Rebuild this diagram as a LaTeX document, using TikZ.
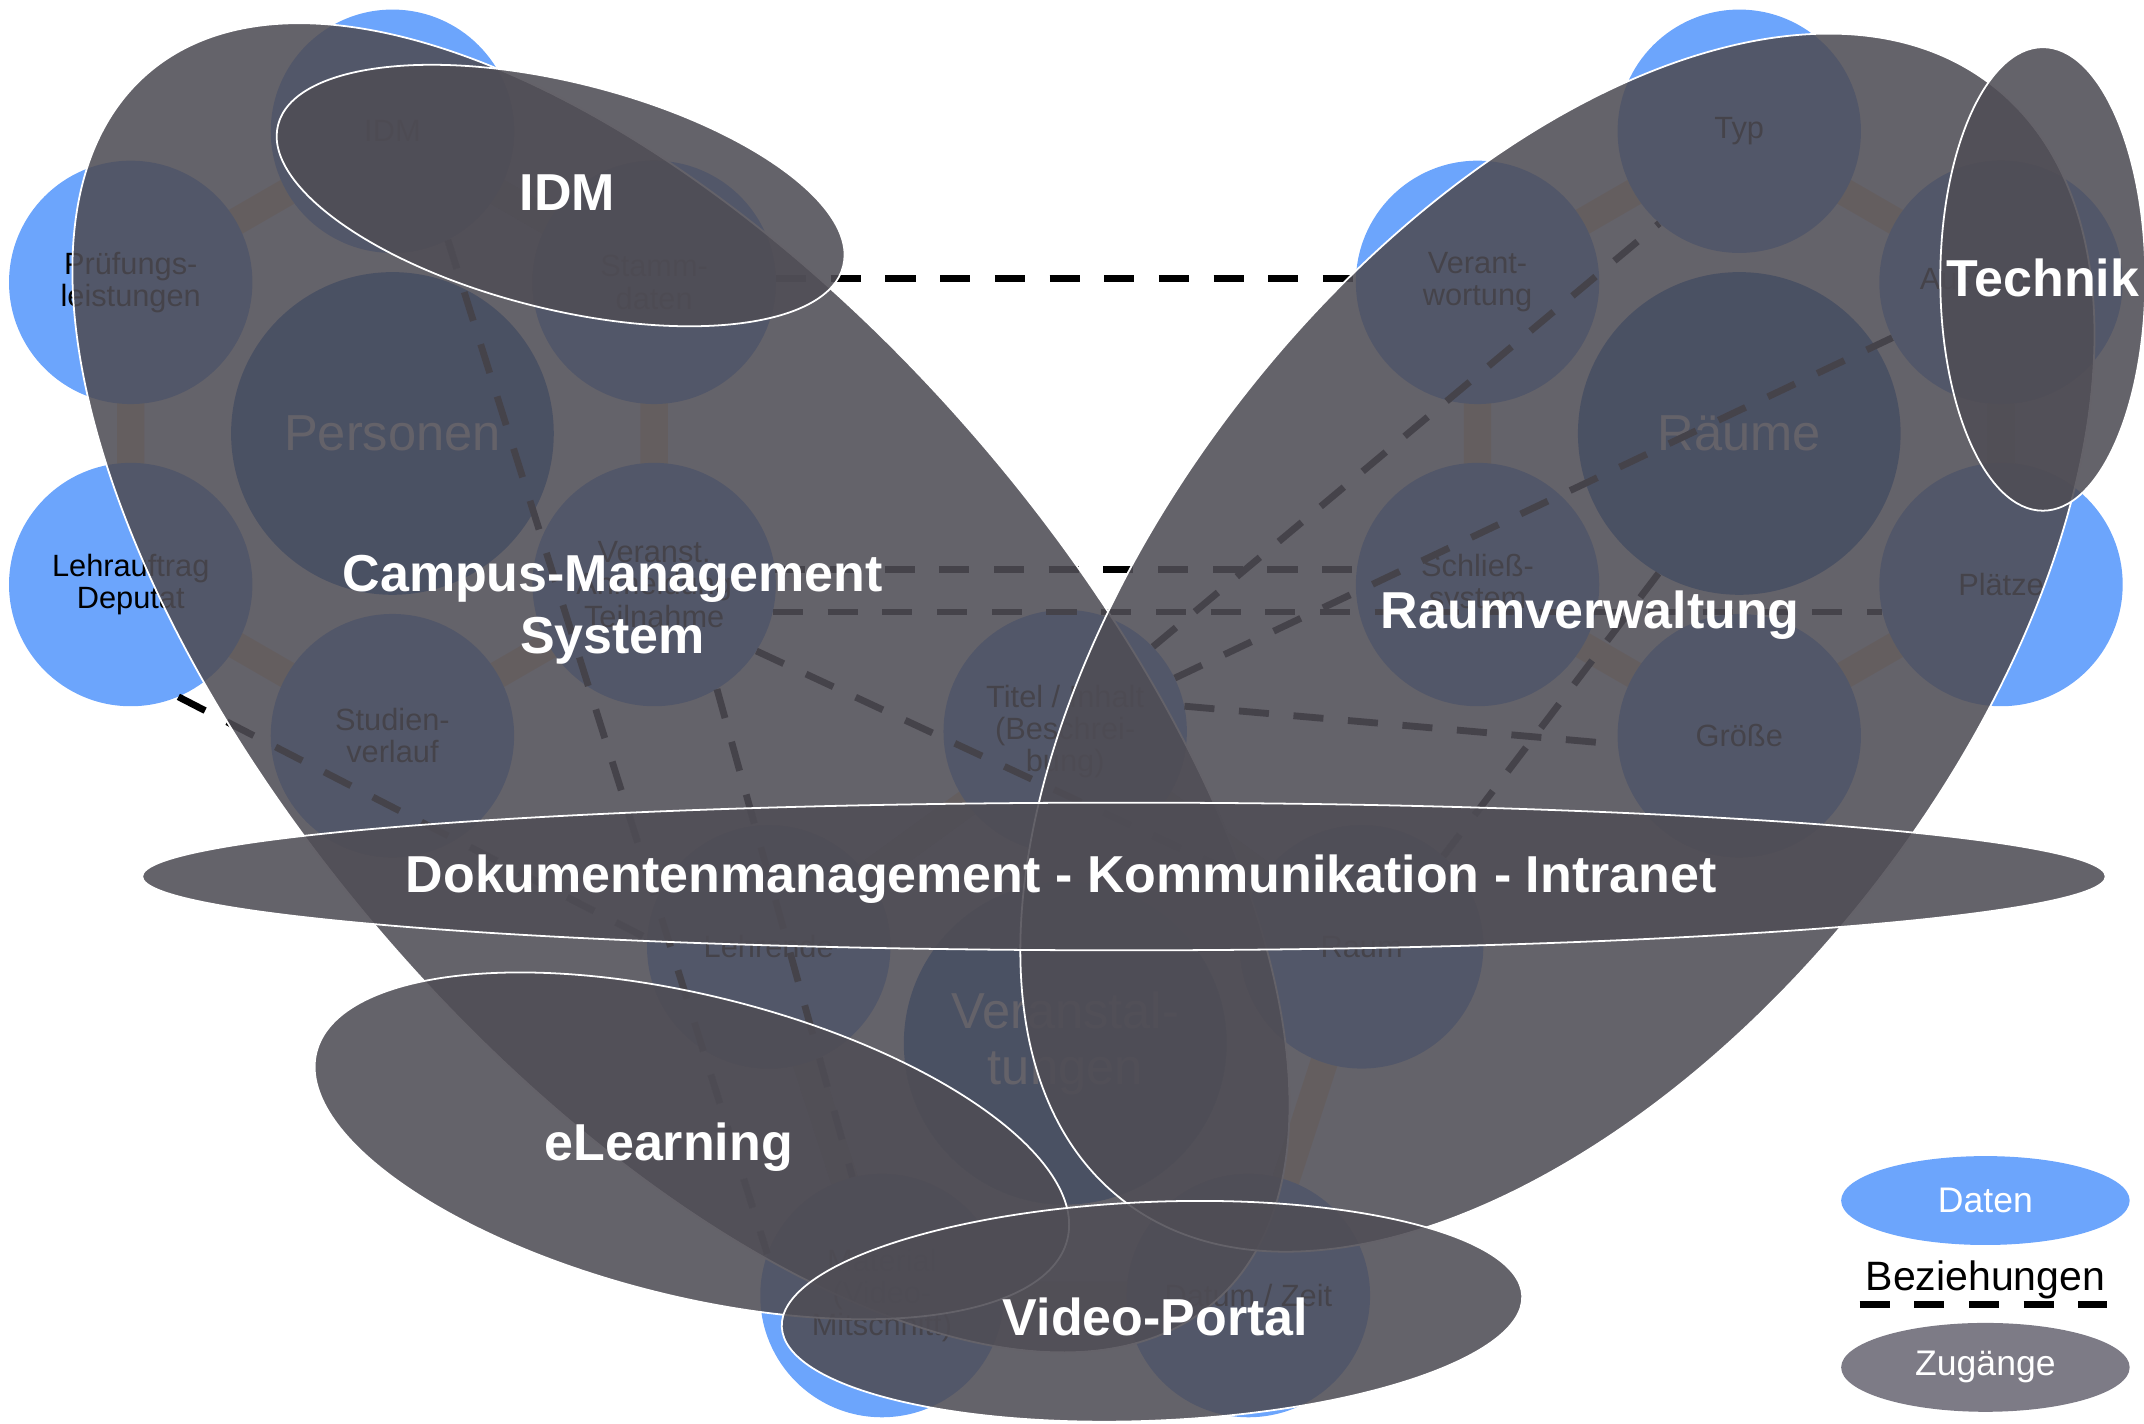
\documentclass[tikz,border=0pt]{standalone}
\usepackage{fontspec}
\setmainfont{Liberation Sans}
\usetikzlibrary{shapes.geometric}
\pgfdeclarelayer{bg}
\pgfsetlayers{bg,main}
\definecolor{datablue}{RGB}{108,165,252}
\definecolor{coreblue}{RGB}{45,110,205}
\definecolor{peach}{RGB}{254,222,172}
\definecolor{zug}{RGB}{79,77,85}
\definecolor{zuglegend}{RGB}{125,123,134}
\tikzset{
  dcirc/.style={circle, fill=datablue, minimum size=178pt, inner sep=0pt, align=center,
    font=\fontsize{22.5}{23.5}\selectfont, text=black},
  kcirc/.style={circle, fill=coreblue, minimum size=236pt, inner sep=0pt, align=center,
    font=\fontsize{37}{41}\selectfont, text=white},
  ringbar/.style={line width=20pt, peach, line join=round},
  relline/.style={line width=5pt, black, dash pattern=on 22pt off 18pt},
  zell/.style={ellipse, fill=zug, fill opacity=0.88, draw=white, line width=1.3pt, inner sep=0pt, outer sep=0pt},
  zlab/.style={text=white, font=\fontsize{38}{45}\selectfont\bfseries, align=center, inner sep=0pt},
  legell/.style={ellipse, minimum width=211pt, minimum height=65pt, inner sep=0pt, text=white,
    font=\fontsize{26}{30}\selectfont},
}
\begin{document}
\begin{tikzpicture}[x=1pt,y=-1pt]
\useasboundingbox (0,0) rectangle (1568,1041);
\clip (0,0) rectangle (1568,1041);

% ---------- Personen cluster ----------
\node[kcirc] (personen) at (287,317) {Personen};
\node[dcirc] (idmd) at (287,96) {IDM};
\node[dcirc] (pruef) at (95.6,206.5) {Prüfungs-\\leistungen};
\node[dcirc] (stamm) at (478.4,206.5) {Stamm-\\daten};
\node[dcirc] (lehrauf) at (95.6,427.5) {Lehrauftrag\\Deputat};
\node[dcirc] (veranst) at (478.4,427.5) {Veranst.\\Anmeldung\\Teilnahme};
\node[dcirc] (studien) at (287,538) {Studien-\\verlauf};

% ---------- Raeume cluster ----------
\node[kcirc] (raeume) at (1272,317) {Räume};
\node[dcirc] (typ) at (1272,96) {Typ};
\node[dcirc] (verant) at (1080.6,206.5) {Verant-\\wortung};
\node[dcirc] (ausst) at (1463.4,206.5) {Ausstattung};
\node[dcirc] (schl) at (1080.6,427.5) {Schließ-\\system};
\node[dcirc] (plaetze) at (1463.4,427.5) {Plätze};
\node[dcirc] (groesse) at (1272,538) {Größe};

% ---------- Veranstaltungen cluster ----------
\node[kcirc] (veranstalt) at (779,763) {Veranstal-\\tungen};
\node[dcirc] (titel) at (779,535) {Titel / Inhalt\\(Beschrei-\\bung)};
\node[dcirc] (lehrende) at (562.2,692.5) {Lehrende};
\node[dcirc] (raum) at (995.8,692.5) {Raum};
\node[dcirc] (material) at (645,947.5) {Material\\(Video-\\Mitschnitt)};
\node[dcirc] (datum) at (913,947.5) {Datum / Zeit};

\begin{pgfonlayer}{bg}
\draw[ringbar] (idmd.center) -- (stamm.center) -- (veranst.center) -- (studien.center)
  -- (lehrauf.center) -- (pruef.center) -- cycle;
\draw[ringbar] (typ.center) -- (ausst.center) -- (plaetze.center) -- (groesse.center)
  -- (schl.center) -- (verant.center) -- cycle;
\draw[ringbar] (titel.center) -- (raum.center) -- (datum.center) -- (material.center)
  -- (lehrende.center) -- cycle;
\end{pgfonlayer}

% ---------- relationships ----------
\draw[relline] (stamm.2) -- (verant.178);
\draw[relline] (veranst.7) -- (schl.173);
\draw[relline] (veranst.-13) -- (plaetze.-167);
\draw[relline] (veranst.-33) -- (raum.149);
\draw[relline] (veranst.-59) -- (material.104);
\draw[relline] (idmd.-63) -- (material.160);
\draw[relline] (lehrauf.-67) -- (lehrende.176);
\draw[relline] (titel.44) -- (typ.229);
\draw[relline] (titel.26) -- (ausst.207);
\draw[relline] (titel.12) -- (groesse.184);
\draw[relline] (raeume.240) -- (raum.48);

% ---------- access systems ----------
\node[zell, minimum width=1190pt, minimum height=566pt, rotate=-49] (cms) at (498,503) {};
\node[zlab] (lcms) at (448,446) {Campus-Management\\System};
\node[zell, minimum width=1034pt, minimum height=584pt, rotate=52] (rv) at (1139,470) {};
\node[zlab] (lrv) at (1163,450) {Raumverwaltung};
\node[zell, minimum width=150pt, minimum height=339pt] (tech) at (1494,204) {};
\node[zlab] (ltech) at (1494,203) {Technik};
\node[zell, minimum width=426pt, minimum height=166pt, rotate=-14] (idm) at (410,143) {};
\node[zlab] (lidm) at (415,141) {IDM};
\node[zell, minimum width=1436pt, minimum height=108pt] (dok) at (822,641) {};
\node[zlab] (ldok) at (776,643) {Dokumentenmanagement - Kommunikation - Intranet};
\node[zell, minimum width=566pt, minimum height=220pt, rotate=-14] (elearn) at (506,838) {};
\node[zlab] (lel) at (489,839) {eLearning};
\node[zell, minimum width=542pt, minimum height=160pt, rotate=2.4] (vp) at (842.5,959) {};
\node[zlab] (lvp) at (845,963) {Video-Portal};

% ---------- legend ----------
\node[legell, fill=datablue] (legd) at (1452,878) {Daten};
\node[font=\fontsize{30}{34}\selectfont, inner sep=0pt] (legb) at (1452,936) {Beziehungen};
\coordinate (lega) at (1360,954);
\coordinate (legz) at (1541,954);
\draw[relline] (lega) -- (legz);
\node[legell, fill=zuglegend] (legzu) at (1452,1000) {Zugänge};
\end{tikzpicture}
\end{document}
